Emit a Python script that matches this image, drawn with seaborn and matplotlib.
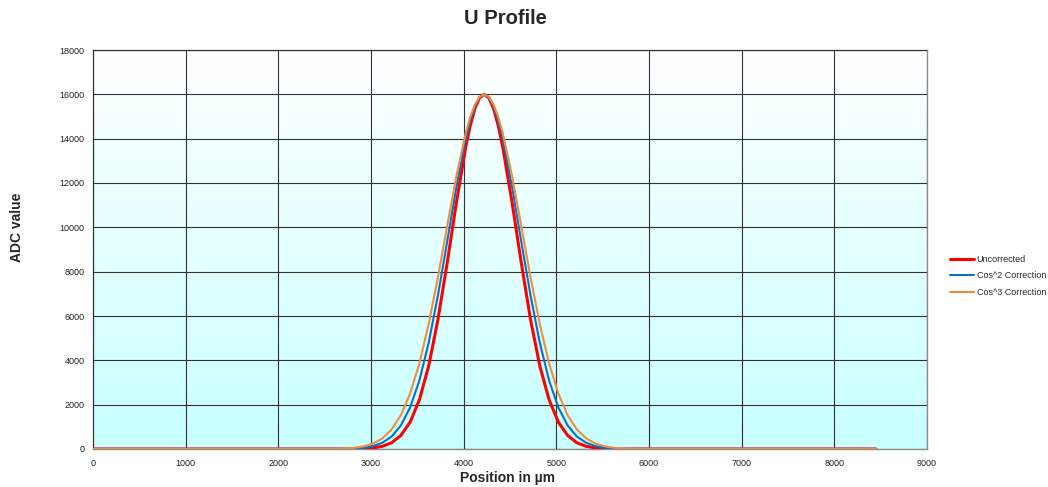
import numpy as np
import pandas as pd
import matplotlib
matplotlib.use("Agg")
import matplotlib.pyplot as plt
import seaborn as sns
from matplotlib.colors import LinearSegmentedColormap

# Profile samples: position (µm) and ADC value for each series
uncorr_pos = [0, 2872, 2922, 3022, 3122, 3222, 3322, 3422, 3522, 3622, 3722, 3822, 3922, 4022,
              4072, 4122, 4172, 4222, 4272, 4322, 4372,
              4422, 4522, 4622, 4722, 4822, 4922, 5022, 5122, 5222, 5322, 5422, 5522,
              5572, 8450]
uncorr_val = [0, 0, 15, 50, 120, 280, 610, 1210, 2220, 3740, 5830, 8390, 11130, 13620,
              14610, 15370, 15840, 16000, 15840, 15370, 14610,
              13620, 11130, 8390, 5830, 3740, 2220, 1210, 610, 280, 120, 50, 15,
              0, 0]

cos2_pos = [0, 2772, 2822, 2922, 3022, 3122, 3222, 3322, 3422, 3522, 3622, 3722, 3822, 3922, 4022,
            4072, 4122, 4172, 4222, 4272, 4322, 4372,
            4422, 4522, 4622, 4722, 4822, 4922, 5022, 5122, 5222, 5322, 5422, 5522, 5622,
            5672, 8450]
cos2_val = [0, 0, 20, 55, 130, 280, 560, 1060, 1870, 3090, 4780, 6920, 9350, 11830, 13990,
            14840, 15470, 15870, 16000, 15870, 15470, 14840,
            13990, 11830, 9350, 6920, 4780, 3090, 1870, 1060, 560, 280, 130, 55, 20,
            0, 0]

cos3_pos = [0, 2672, 2722, 2822, 2922, 3022, 3122, 3222, 3322, 3422, 3522, 3622, 3722, 3822, 3922, 4022,
            4072, 4122, 4172, 4222, 4272, 4322, 4372,
            4422, 4522, 4622, 4722, 4822, 4922, 5022, 5122, 5222, 5322, 5422, 5522, 5622, 5722,
            5772, 8450]
cos3_val = [0, 0, 25, 55, 120, 245, 480, 880, 1520, 2500, 3860, 5630, 7740, 10060, 12320, 14250,
            14990, 15540, 15880, 16000, 15880, 15540, 14990,
            14250, 12320, 10060, 7740, 5630, 3860, 2500, 1520, 880, 480, 245, 120, 55, 25,
            0, 0]

series_names = ["Uncorrected", "Cos^2 Correction", "Cos^3 Correction"]
x_ticks = list(range(0, 9001, 1000))
y_ticks = list(range(0, 18001, 2000))

sns.set_style("white")
plt.rcParams["font.family"] = ["Liberation Sans", "DejaVu Sans"]

fig = plt.figure(figsize=(10.48, 4.87), dpi=100)
ax = fig.add_axes([93 / 1048, 38 / 487, 834 / 1048, 399 / 487])

# vertical white-to-cyan gradient behind the plot area
grad = LinearSegmentedColormap.from_list("bg", ["#c8ffff", "#ffffff"])
ax.imshow(np.linspace(0, 1, 256).reshape(-1, 1)[::-1], cmap=grad, aspect="auto",
          extent=[0, 1, 0, 1], transform=ax.transAxes, zorder=0)

styles = [("#ff0000", 2.2), ("#0a72c2", 1.5), ("#f28c3e", 1.5)]
data = [(uncorr_pos, uncorr_val), (cos2_pos, cos2_val), (cos3_pos, cos3_val)]
for name, (xs, ys), (col, lw) in zip(series_names, data, styles):
    df = pd.DataFrame({"pos": xs, "adc": ys})
    sns.lineplot(data=df, x="pos", y="adc", ax=ax, color=col, lw=lw,
                 label=name, estimator=None, sort=False, zorder=3)

ax.set_xlim(0, 9000)
ax.set_ylim(0, 18000)
ax.set_xticks(x_ticks)
ax.set_yticks(y_ticks)
ax.tick_params(axis="both", labelsize=6.5, length=4, width=0.8, color="#808080",
               direction="out", pad=2, labelcolor="#222222")
ax.tick_params(axis="x", pad=3)
ax.grid(True, color="#333333", lw=0.8, zorder=1)
ax.set_axisbelow(False)
for sp in ax.spines.values():
    sp.set_color("#8a8a8a")
    sp.set_linewidth(1.0)
ax.set_xlabel("")
ax.set_ylabel("")

fig.text(505 / 1048, 1 - 18 / 487, "U Profile", ha="center", va="center",
         fontsize=14.5, fontweight="bold")
fig.text(508 / 1048, 1 - 478 / 487, "Position in µm", ha="center", va="center",
         fontsize=10, fontweight="bold")
fig.text(17 / 1048, 1 - 227 / 487, "ADC value", ha="center", va="center",
         rotation=90, fontsize=10, fontweight="bold")

handles, labels = ax.get_legend_handles_labels()
ax.legend_.remove()
fig.legend(handles, labels, loc="center left", bbox_to_anchor=(950 / 1048, 1 - 276 / 487),
           frameon=False, fontsize=6.5, handlelength=2.7, handletextpad=0.25,
           labelspacing=0.85, borderpad=0, borderaxespad=0)

fig.savefig("out.png", dpi=100)
